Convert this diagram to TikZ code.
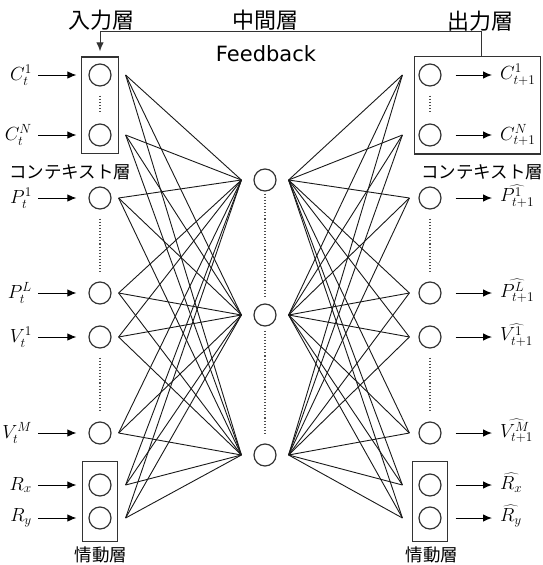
\documentclass[tikz,border=0pt]{standalone}
\usepackage{fix-cm}
\usepackage{fontspec}
\newfontfamily\jpfont{Noto Sans CJK JP}
\newfontfamily\fbfont{DejaVu Sans}
\usetikzlibrary{arrows.meta,fit}

\begin{document}
\begin{tikzpicture}[x=1pt,y=-1pt,
  neuron/.style={circle,draw,black!80,line width=1.2pt,minimum size=22pt,inner sep=0pt},
  layerbox/.style={draw,black!80,line width=1.2pt,inner sep=0pt},
  var/.style={font=\fontsize{19}{23}\selectfont,inner sep=1pt},
  title/.style={font=\jpfont\fontsize{22}{26}\selectfont},
  sublabel/.style={font=\jpfont\fontsize{17.5}{20}\selectfont,inner sep=0pt},
  arr/.style={-{Latex[length=9pt,width=7.5pt]},line width=1pt},
  wire/.style={line width=0.9pt,black!90},
  dots/.style={dotted,line width=1.1pt,black!70}]
\useasboundingbox (0,0) rectangle (543,565);

% titles
\node[title] (tin) at (101,20) {入力層};
\node[title] (thid) at (265,20) {中間層};
\node[title] (tout) at (480,21) {出力層};
\node[font=\fbfont\fontsize{21}{25}\selectfont] (fb) at (266,54) {Feedback};

% input layer
\node[neuron] (c1) at (100,75) {};
\node[neuron] (cN) at (100,135) {};
\node[neuron] (p1) at (100,198) {};
\node[neuron] (pL) at (100,293) {};
\node[neuron] (v1) at (100,337) {};
\node[neuron] (vM) at (100,433) {};
\node[neuron] (rx) at (100,485) {};
\node[neuron] (ry) at (100,518) {};

% hidden layer
\node[neuron] (h1) at (265,180) {};
\node[neuron] (h2) at (265,315) {};
\node[neuron] (h3) at (265,455) {};

% output layer
\node[neuron] (oc1) at (430,75) {};
\node[neuron] (ocN) at (430,135) {};
\node[neuron] (op1) at (430,198) {};
\node[neuron] (opL) at (430,293) {};
\node[neuron] (ov1) at (430,337) {};
\node[neuron] (ovM) at (430,433) {};
\node[neuron] (orx) at (430,485) {};
\node[neuron] (ory) at (430,518) {};

% input variables
\node[var,anchor=east] (lc1) at (33,75) {$C_t^1$};
\node[var,anchor=east] (lcN) at (33,135) {$C_t^N$};
\node[var,anchor=east] (lp1) at (33,198) {$P_t^1$};
\node[var,anchor=east] (lpL) at (33,293) {$P_t^L$};
\node[var,anchor=east] (lv1) at (33,337) {$V_t^1$};
\node[var,anchor=east] (lvM) at (33,433) {$V_t^M$};
\node[var,anchor=east] (lrx) at (33,485) {$R_x$};
\node[var,anchor=east] (lry) at (33,518) {$R_y$};

% output variables
\node[var,anchor=west] (loc1) at (499,75) {$C_{t+1}^1$};
\node[var,anchor=west] (locN) at (499,135) {$C_{t+1}^N$};
\node[var,anchor=west] (lop1) at (499,196) {$\widehat{P_{t+1}^1}$};
\node[var,anchor=west] (lopL) at (499,291) {$\widehat{P_{t+1}^L}$};
\node[var,anchor=west] (lov1) at (499,335) {$\widehat{V_{t+1}^1}$};
\node[var,anchor=west] (lovM) at (499,431) {$\widehat{V_{t+1}^M}$};
\node[var,anchor=west] (lorx) at (499,483) {$\widehat{R_x}$};
\node[var,anchor=west] (lory) at (499,516) {$\widehat{R_y}$};

% boxes
\node[layerbox,fit=(c1)(cN),inner xsep=7pt,inner ysep=6.5pt] (ibox) {};
\node[layerbox,fit=(rx)(ry),inner xsep=6pt,inner ysep=12pt] (irbox) {};
\node[layerbox,fit=(oc1)(ocN)(loc1)(locN),inner xsep=4pt,inner ysep=7pt] (obox) {};
\node[layerbox,fit=(orx)(ory),inner xsep=6pt,inner ysep=12pt] (orbox) {};

% layer names
\node[sublabel,anchor=west] (ctxl) at (9,172) {コンテキスト層};
\node[sublabel,anchor=west] (ctxr) at (421,172) {コンテキスト層};
\node[sublabel] (emol) at (101,555) {情動層};
\node[sublabel] (emor) at (432,555) {情動層};

% feedback
\draw[arr,black!80] ([xshift=68pt]obox.north west) -- ++(0,-24) -| (ibox.north)
  [shorten >=5pt];

% in / out arrows
\foreach \n in {c1,cN,p1,pL,v1,vM,rx,ry}
  \draw[arr,shorten <=5pt,shorten >=12pt] (l\n.east |- \n) -- (\n.west);
\foreach \n in {c1,cN,p1,pL,v1,vM,rx,ry}
  \draw[arr,shorten <=14pt,shorten >=7pt] (o\n.east) -- (lo\n.west |- o\n);

% dots
\draw[dots,shorten <=9pt,shorten >=10pt] (c1) -- (cN);
\draw[dots,shorten <=9pt,shorten >=9pt] (p1) -- (pL);
\draw[dots,shorten <=9pt,shorten >=9pt] (v1) -- (vM);
\draw[dots,shorten <=9pt,shorten >=10pt] (oc1) -- (ocN);
\draw[dots,shorten <=9pt,shorten >=9pt] (op1) -- (opL);
\draw[dots,shorten <=9pt,shorten >=9pt] (ov1) -- (ovM);
\draw[dots,shorten <=2pt,shorten >=7pt] (h1) -- (h2);
\draw[dots,shorten <=4pt,shorten >=8pt] (h2) -- (h3);

% connection points
\foreach \n/\dx in {c1/14,cN/14,p1/7,pL/7,v1/7,vM/7,rx/14,ry/14} {
  \coordinate (\n-o) at ([xshift=\dx pt]\n.east);
  \coordinate (o\n-i) at ([xshift=-\dx pt-2pt]o\n.west);
}
\foreach \h in {h1,h2,h3} {
  \coordinate (\h-l) at ([xshift=-12pt]\h.west);
  \coordinate (\h-r) at ([xshift=12pt]\h.east);
}

% weights
\foreach \n in {c1,cN,p1,pL,v1,vM,rx,ry}
  \foreach \h in {h1,h2,h3} {
    \draw[wire] (\n-o) -- (\h-l);
    \draw[wire] (\h-r) -- (o\n-i);
  }
\end{tikzpicture}
\end{document}
